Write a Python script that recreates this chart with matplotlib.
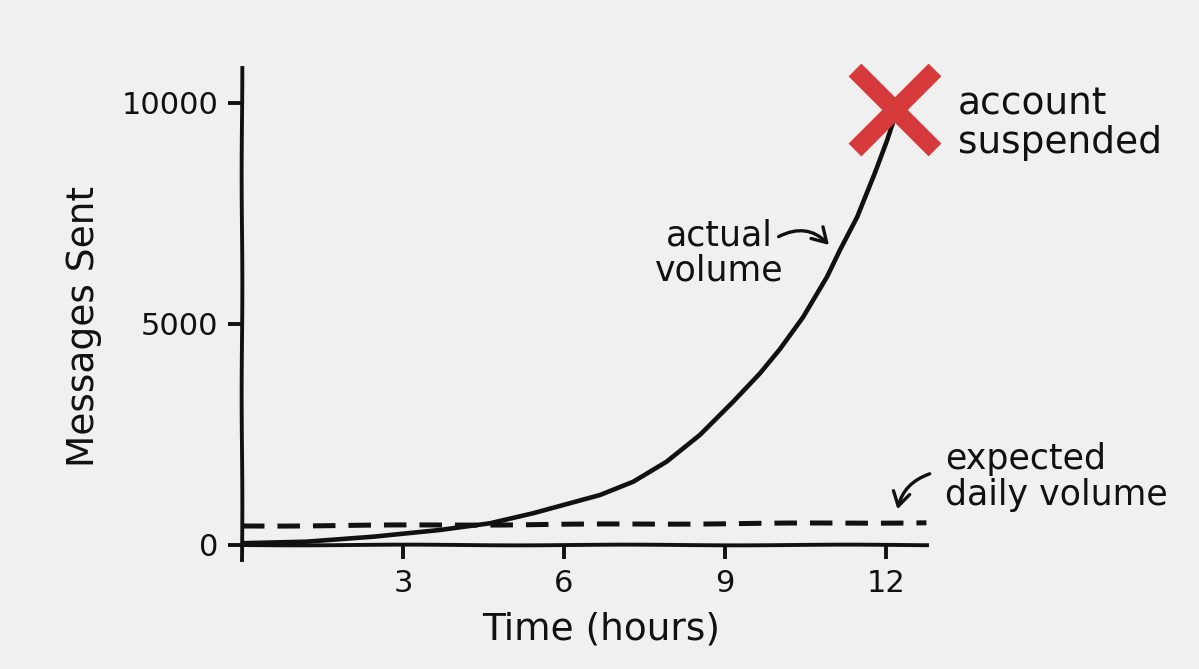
import matplotlib.pyplot as plt

# values
hours = [0, 1.2, 2.45, 3.69, 4.62, 5.42, 6.67, 7.29, 7.91, 8.53, 9.15, 9.65,
         10.02, 10.45, 10.9, 11.14, 11.46, 11.79, 12.02, 12.13]
messages = [40, 75, 188, 340, 491, 717, 1131, 1432, 1885, 2489, 3242, 3884,
            4430, 5150, 6070, 6674, 7420, 8416, 9163, 9570]

expected_hours = [0, 12.75]
expected_msgs = [430, 505]

suspended_hour = 12.17
suspended_msgs = 9840

x_ticks = [3, 6, 9, 12]
y_ticks = [0, 5000, 10000]
y_tick_labels = ["0", "5000", "10000"]

BG = "#f0f0f0"
INK = "#111111"
RED = "#d63a3a"

plt.rcParams["font.family"] = ["DejaVu Sans"]

fig = plt.figure(figsize=(11.99, 6.69), dpi=100, facecolor=BG)
ax = fig.add_axes([0.2018, 0.1629, 0.7907, 0.7354])
ax.set_facecolor(BG)
ax.set_xlim(0, 17.66)
ax.set_ylim(-340, 10790)

for side in ("top", "right"):
    ax.spines[side].set_visible(False)
ax.spines["bottom"].set_position(("data", 0))
ax.spines["bottom"].set_bounds(0, 12.76)
for side in ("left", "bottom"):
    ax.spines[side].set_linewidth(2.8)
    ax.spines[side].set_color(INK)
    ax.spines[side].set_sketch_params(0.35, 220, 1)

ax.set_xticks(x_ticks)
ax.set_xticklabels([str(h) for h in x_ticks])
ax.set_yticks(y_ticks)
ax.set_yticklabels(y_tick_labels)
ax.tick_params(axis="both", direction="out", length=10, width=2.8,
               color=INK, labelcolor=INK, labelsize=22, pad=7)

ax.set_xlabel("Time (hours)", fontsize=27, color=INK)
ax.xaxis.set_label_coords(0.379, -0.105)
ax.set_ylabel("Messages Sent", fontsize=27, color=INK)
ax.yaxis.set_label_coords(-0.148, 0.474)

# expected daily volume (dashed) and actual volume curve
dashed, = ax.plot(expected_hours, expected_msgs, color=INK, lw=3.6,
                  linestyle=(0, (4.5, 2.6)), zorder=3)
dashed.set_sketch_params(0.3, 200, 1)
ax.plot(hours, messages, color=INK, lw=3.3, solid_capstyle="round",
        solid_joinstyle="round", zorder=4)

# big red X where the account got suspended
ax.plot([suspended_hour], [suspended_msgs], marker="x", ms=58, mew=13,
        color=RED, clip_on=False, zorder=5)

ax.text(13.34, 9525, "account\nsuspended", fontsize=27, color=INK,
        ha="left", va="center", linespacing=1.1)

ax.text(8.89, 6606, "actual\nvolume", fontsize=25, color=INK,
        ha="center", va="center", linespacing=1.05)
ax.annotate("", xy=(10.97, 6742), xytext=(9.95, 6946),
            arrowprops=dict(arrowstyle="->,head_length=0.5,head_width=0.3",
                            mutation_scale=20, color=INK, lw=2.4,
                            connectionstyle="arc3,rad=-0.4"))

ax.text(13.10, 1538, "expected\ndaily volume", fontsize=25, color=INK,
        ha="left", va="center", linespacing=1.05)
ax.annotate("", xy=(12.20, 747), xytext=(12.86, 1629),
            arrowprops=dict(arrowstyle="->,head_length=0.5,head_width=0.3",
                            mutation_scale=20, color=INK, lw=2.4,
                            connectionstyle="arc3,rad=0.3"))

fig.savefig("out.png", dpi=100, facecolor=BG)
